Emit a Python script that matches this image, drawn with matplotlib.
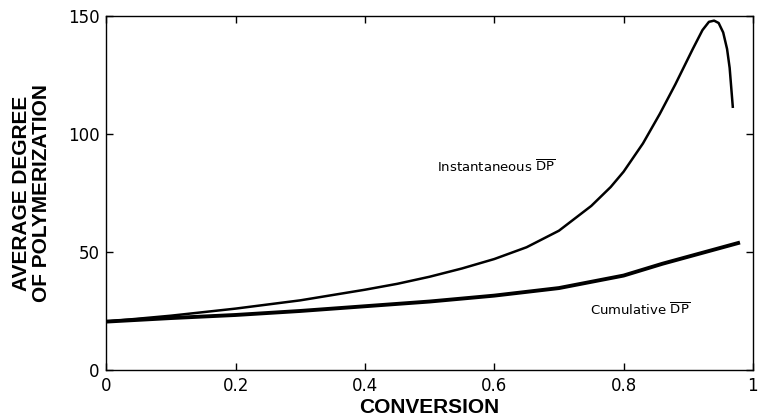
import numpy as np
import matplotlib
matplotlib.use("Agg")
import matplotlib.pyplot as plt

plt.rcParams['mathtext.fontset'] = 'custom'
plt.rcParams['mathtext.rm'] = 'DejaVu Sans'

# Values
conv_inst = [0.0, 0.1, 0.2, 0.3, 0.4, 0.45, 0.5, 0.55, 0.6, 0.65, 0.7, 0.75,
             0.78, 0.8, 0.83, 0.856, 0.88, 0.907, 0.922, 0.932, 0.94, 0.947,
             0.954, 0.96, 0.964, 0.969]
dp_inst = [20.5, 23, 26, 29.5, 34, 36.5, 39.5, 43, 47, 52, 59, 69.5,
           77.5, 84, 96, 108.5, 121, 136, 144, 147.5, 148, 147,
           143, 136, 128, 111]

conv_cum = [0.0, 0.1, 0.2, 0.3, 0.4, 0.5, 0.6, 0.7, 0.8, 0.86, 0.92, 0.98]
dp_cum = [20.5, 22, 23.3, 25, 27, 29, 31.5, 34.7, 40, 45, 49.5, 54]

xticks = [0, 0.2, 0.4, 0.6, 0.8, 1]
xticklabels = ['0', '0.2', '0.4', '0.6', '0.8', '1']
yticks = [0, 50, 100, 150]

fig = plt.figure(figsize=(7.59, 4.19), dpi=100)
ax = fig.add_axes([0.140, 0.117, 0.852, 0.845])

ax.plot(conv_inst, dp_inst, color='black', lw=1.8, solid_capstyle='butt',
        solid_joinstyle='round')
ax.plot(conv_cum, dp_cum, color='black', lw=2.8, solid_capstyle='butt',
        solid_joinstyle='round')

ax.set_xlim(0, 1)
ax.set_ylim(0, 150)
ax.set_xticks(xticks)
ax.set_xticklabels(xticklabels)
ax.set_yticks(yticks)
ax.tick_params(direction='in', length=5, width=1, top=True, right=True,
               labelsize=12, pad=5)
for s in ax.spines.values():
    s.set_linewidth(1)

ax.text(0.512, 86, r'Instantaneous $\overline{\mathrm{DP}}$', fontsize=9.5,
        va='center', ha='left')
ax.text(0.748, 25.4, r'Cumulative $\overline{\mathrm{DP}}$', fontsize=9.5,
        va='center', ha='left')

ax.set_xlabel('CONVERSION', fontsize=15, fontweight='bold',
              family='Liberation Sans', labelpad=2)
ax.set_ylabel('AVERAGE DEGREE\nOF POLYMERIZATION', fontsize=15,
              fontweight='bold', family='Liberation Sans', labelpad=12,
              linespacing=1.05)

fig.savefig('out.png', dpi=100)
